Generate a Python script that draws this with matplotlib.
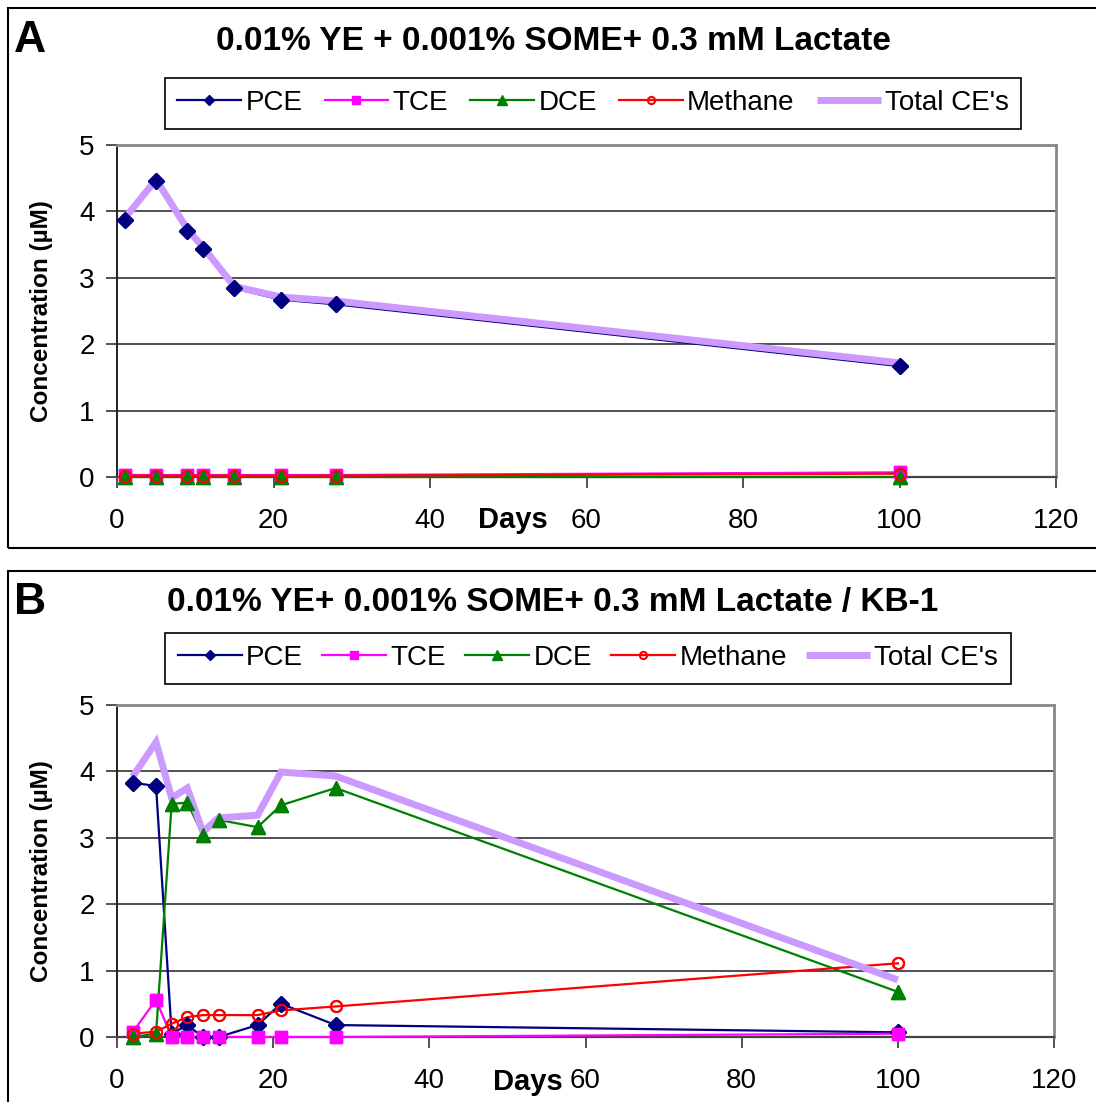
import matplotlib
matplotlib.use("Agg")
import matplotlib.pyplot as plt
from matplotlib.patches import Rectangle

plt.rcParams['font.family'] = ['Liberation Sans', 'DejaVu Sans']

# ---------------- data ----------------
days_a = [1, 5, 9, 11, 15, 21, 28, 100]
pce_a = [3.87, 4.46, 3.70, 3.43, 2.84, 2.67, 2.60, 1.67]
tce_a = [0.03, 0.03, 0.03, 0.03, 0.03, 0.03, 0.03, 0.07]
dce_a = [0.0, 0.0, 0.0, 0.0, 0.0, 0.0, 0.0, 0.0]
meth_a = [0.02, 0.02, 0.02, 0.02, 0.02, 0.02, 0.02, 0.05]
total_a = [3.90, 4.48, 3.73, 3.46, 2.87, 2.71, 2.65, 1.72]

days_b = [2, 5, 7, 9, 11, 13, 18, 21, 28, 100]
pce_b = [3.83, 3.78, 0.05, 0.18, 0.0, 0.0, 0.18, 0.50, 0.18, 0.07]
tce_b = [0.07, 0.56, 0.0, 0.0, 0.0, 0.0, 0.0, 0.0, 0.0, 0.05]
dce_b = [0.0, 0.05, 3.51, 3.53, 3.04, 3.27, 3.16, 3.49, 3.75, 0.68]
meth_b = [0.05, 0.08, 0.20, 0.30, 0.33, 0.33, 0.33, 0.40, 0.46, 1.11]
total_b = [3.92, 4.44, 3.60, 3.75, 3.09, 3.30, 3.34, 3.99, 3.93, 0.86]

x_ticks = [0, 20, 40, 60, 80, 100, 120]
y_ticks = [0, 1, 2, 3, 4, 5]
series_names = ['PCE', 'TCE', 'DCE', 'Methane', "Total CE's"]
title_a = "0.01% YE + 0.001% SOME+ 0.3 mM Lactate"
title_b = "0.01% YE+ 0.001% SOME+ 0.3 mM Lactate / KB-1"

W, H = 1096, 1102
fig = plt.figure(figsize=(W / 100, H / 100), dpi=100)

def fx(px):
    return px / W

def fy(py):
    return 1 - py / H

# panel frames
fig.patches.append(Rectangle((fx(8), fy(548)), fx(1200), (548 - 8) / H,
                             transform=fig.transFigure, fill=False,
                             edgecolor='black', linewidth=1.5))
fig.patches.append(Rectangle((fx(8), fy(1200)), fx(1200), (1200 - 571) / H,
                             transform=fig.transFigure, fill=False,
                             edgecolor='black', linewidth=1.5))

styles = [
    dict(color='#000080', marker='D', ms=8.5, mfc='#000080', mec='#000080', lw=1.6),
    dict(color='#FF00FF', marker='s', ms=8.5, mfc='#FF00FF', mec='#FF00FF', lw=1.6),
    dict(color='#008000', marker='^', ms=10, mfc='#008000', mec='#008000', lw=1.6),
    dict(color='#FF0000', marker='o', ms=8, mfc='none', mec='#FF0000', mew=1.5, lw=1.6),
]

def panel(ax_rect, days, data, total, title, letter, title_y, letter_y, leg_center,
          days_pos, right_px, colsp):
    left, top, bottom = 117, ax_rect[0], ax_rect[1]
    ax = fig.add_axes([fx(left), fy(bottom), fx(right_px) - fx(left), (bottom - top) / H])
    handles = []
    for vals, st, name in zip(data, styles, series_names[:4]):
        h, = ax.plot(days, vals, label=name, zorder=3, clip_on=False, **st)
        handles.append(h)
    ht, = ax.plot(days, total, color='#CC99FF', lw=5, label=series_names[4], zorder=4,
                  solid_capstyle='butt', solid_joinstyle='miter')
    handles.append(ht)
    # markers on top
    for vals, st in zip(data, styles):
        ax.plot(days, vals, linestyle='none', zorder=5, clip_on=False,
                **{k: v for k, v in st.items() if k != 'lw'})
    ax.set_xlim(0, 120)
    ax.set_ylim(0, 5)
    ax.set_xticks(x_ticks)
    ax.set_yticks(y_ticks)
    ax.tick_params(axis='both', direction='out', length=8, width=1.2, color='#333333',
                   labelsize=20)
    ax.tick_params(axis='x', pad=14)
    ax.tick_params(axis='y', pad=8)
    ax.yaxis.grid(True, color='#505050', linewidth=1.4)
    ax.set_axisbelow(True)
    for s in ['top', 'right']:
        ax.spines[s].set_color('#888888')
        ax.spines[s].set_linewidth(2)
    ax.spines['left'].set_color('#222222')
    ax.spines['bottom'].set_color('#444444')
    ax.spines['left'].set_linewidth(1.4)
    ax.spines['bottom'].set_linewidth(1.6)
    ax.set_ylabel('Concentration (µM)', fontsize=17.5, fontweight='bold', labelpad=19)
    fig.text(fx(days_pos[0]), fy(days_pos[1]), 'Days', fontsize=21, fontweight='bold',
             ha='center', va='center')
    fig.text(fx(553), fy(title_y), title, fontsize=24, fontweight='bold', ha='center', va='center')
    fig.text(fx(14), fy(letter_y), letter, fontsize=32, fontweight='bold', ha='left', va='center')
    leg = fig.legend(handles=handles, labels=series_names, ncol=5, fontsize=20,
                     loc='center', bbox_to_anchor=(fx(leg_center[0]), fy(leg_center[1])),
                     handlelength=2.3, handletextpad=0.15, columnspacing=colsp,
                     borderpad=0.45, markerscale=0.65, fancybox=False, framealpha=1,
                     edgecolor='black')
    leg.get_frame().set_linewidth(1.2)
    return ax

panel((145, 477), days_a, [pce_a, tce_a, dce_a, meth_a], total_a, title_a, 'A',
      41, 40, (593, 103), (513, 520), 1056, 0.8)
panel((705, 1037), days_b, [pce_b, tce_b, dce_b, meth_b], total_b, title_b, 'B',
      602, 602, (588, 658), (528, 1082), 1054, 0.7)

fig.savefig('out.png', dpi=100)
